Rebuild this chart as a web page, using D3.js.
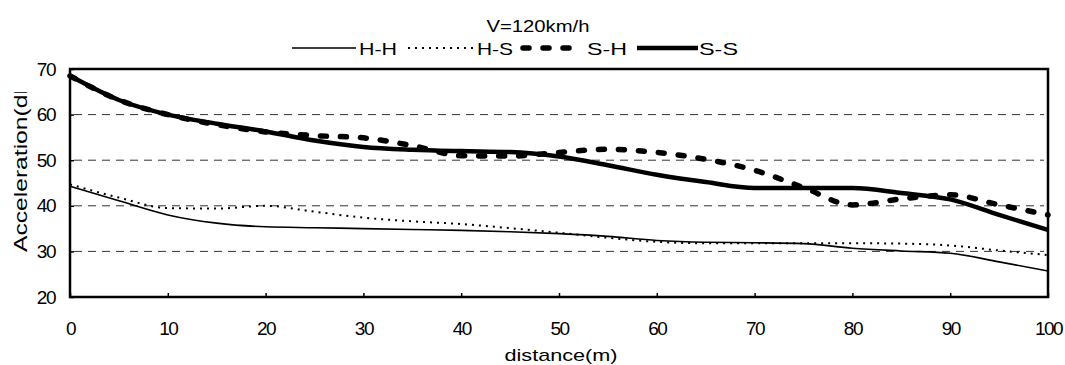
<!DOCTYPE html>
<html>
<head>
<meta charset="utf-8">
<script src="https://cdn.jsdelivr.net/npm/d3@7"></script>
<style>
  body { margin: 0; background: #fff; }
  text { font-family: "Liberation Sans", Arial, sans-serif; fill: #000; }
</style>
</head>
<body>
<svg></svg>
<script>
const distance = [0, 5, 10, 15, 20, 25, 30, 35, 40, 45, 50, 55, 60, 65, 70, 75, 80, 85, 90, 95, 100];
const hh = [44.3, 41.1, 38, 36.2, 35.4, 35.2, 35, 34.8, 34.6, 34.3, 33.9, 33.3, 32.4, 32, 31.9, 31.7, 30.7, 30.1, 29.6, 27.7, 25.7];
const hs = [44.7, 41.8, 39.5, 39.4, 40, 38.7, 37.4, 36.6, 36, 35.1, 34.1, 33, 32.1, 31.8, 31.8, 31.8, 31.8, 31.7, 31.3, 30.2, 29.2];
const sh = [68.5, 63.2, 60, 57.8, 56.2, 55.4, 54.9, 53.2, 51, 50.9, 51.7, 52.4, 51.7, 50.2, 47.8, 44, 40.2, 41.5, 42.4, 40.2, 38];
const ss = [68.5, 63.2, 60, 58, 56.3, 54.3, 52.9, 52.3, 52, 51.8, 50.8, 48.9, 46.8, 45.2, 43.9, 43.9, 43.9, 42.8, 41.4, 38, 34.7];
const seriesNames = ['H-H', 'H-S', 'S-H', 'S-S'];
const xTicks = [0, 10, 20, 30, 40, 50, 60, 70, 80, 90, 100];
const yTicks = [20, 30, 40, 50, 60, 70];
const gridValues = [30, 40, 50, 60];

const width = 1065, height = 365;
const margin = { top: 69, right: 17, bottom: 68, left: 70 };

const svg = d3.select('svg').attr('width', width).attr('height', height);

const x = d3.scaleLinear().domain([0, 100]).range([margin.left, width - margin.right]);
const y = d3.scaleLinear().domain([20, 70]).range([height - margin.bottom, margin.top]);

const styles = {
  'H-H': { w: 1.6, dash: null },
  'H-S': { w: 2, dash: '2,5' },
  'S-H': { w: 5.5, dash: '6,14' },
  'S-S': { w: 4.5, dash: null }
};
const values = { 'H-H': hh, 'H-S': hs, 'S-H': sh, 'S-S': ss };

// grid
svg.append('g').selectAll('line')
  .data(gridValues)
  .enter().append('line')
    .attr('x1', x(0) + 4).attr('x2', x(100) - 4)
    .attr('y1', d => y(d)).attr('y2', d => y(d))
    .attr('stroke', '#333').attr('stroke-width', 1)
    .attr('stroke-dasharray', '8,6');

// axes
const xAxis = svg.append('g')
  .attr('transform', `translate(0,${y(20)})`)
  .call(d3.axisBottom(x).tickValues(xTicks).tickSize(-4).tickPadding(25));
const yAxis = svg.append('g')
  .attr('transform', `translate(${x(0)},0)`)
  .call(d3.axisLeft(y).tickValues(yTicks).tickSize(-4).tickPadding(15));
[xAxis, yAxis].forEach(a => {
  a.select('.domain').remove();
  a.selectAll('.tick line').attr('stroke', '#000').attr('stroke-width', 1.5);
  a.selectAll('text').style('font-size', '19px').attr('letter-spacing', '-1.5');
});

// frame
svg.append('rect')
  .attr('x', x(0)).attr('y', y(70))
  .attr('width', x(100) - x(0)).attr('height', y(20) - y(70))
  .attr('fill', 'none').attr('stroke', '#000').attr('stroke-width', 2.5);

// lines
const line = d3.line()
  .x((d, i) => x(distance[i]))
  .y(d => y(d))
  .curve(d3.curveMonotoneX);

seriesNames.forEach(name => {
  svg.append('path')
    .datum(values[name])
    .attr('d', line)
    .attr('fill', 'none')
    .attr('stroke', '#000')
    .attr('stroke-width', styles[name].w)
    .attr('stroke-dasharray', styles[name].dash)
    .attr('stroke-linecap', name === 'S-H' ? 'round' : 'butt');
});

// title + legend
svg.append('text')
  .attr('x', 538).attr('y', 32)
  .attr('text-anchor', 'middle')
  .attr('textLength', 103)
  .attr('lengthAdjust', 'spacingAndGlyphs')
  .style('font-size', '16px')
  .text('V=120km/h');

const legendItems = [
  { name: 'H-H', x1: 292, x2: 356, tx: 359, tl: 38 },
  { name: 'H-S', x1: 408, x2: 476, tx: 477, tl: 36 },
  { name: 'S-H', x1: 523, x2: 583, tx: 587, tl: 40 },
  { name: 'S-S', x1: 637, x2: 698, tx: 699, tl: 39 }
];
const lg = svg.append('g').selectAll('g')
  .data(legendItems)
  .enter().append('g');
lg.append('line')
  .attr('x1', d => d.x1).attr('x2', d => d.x2)
  .attr('y1', 48).attr('y2', 48)
  .attr('stroke', '#000')
  .attr('stroke-width', d => styles[d.name].w)
  .attr('stroke-dasharray', d => styles[d.name].dash)
  .attr('stroke-linecap', d => d.name === 'S-H' ? 'round' : 'butt');
lg.append('text')
  .attr('x', d => d.tx).attr('y', 55)
  .attr('textLength', d => d.tl)
  .attr('lengthAdjust', 'spacingAndGlyphs')
  .style('font-size', '17px')
  .text(d => d.name);

// axis titles
svg.append('text')
  .attr('x', 561).attr('y', 361)
  .attr('text-anchor', 'middle')
  .attr('textLength', 113)
  .attr('lengthAdjust', 'spacingAndGlyphs')
  .style('font-size', '17px')
  .text('distance(m)');

svg.append('defs').append('clipPath').attr('id', 'ylab')
  .append('rect').attr('x', 0).attr('y', 92).attr('width', 40).attr('height', 200);
svg.append('g')
  .attr('clip-path', 'url(#ylab)')
  .append('text')
    .attr('transform', 'translate(27,252) rotate(-90)')
    .attr('textLength', 182)
    .attr('lengthAdjust', 'spacingAndGlyphs')
    .style('font-size', '18px')
    .text('Acceleration(dB)');
</script>
</body>
</html>
